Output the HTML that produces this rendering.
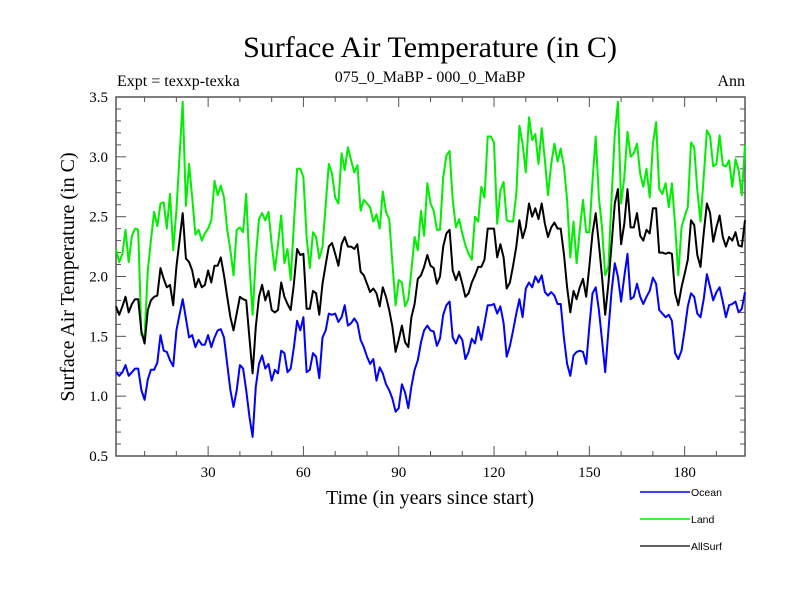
<!DOCTYPE html>
<html><head><meta charset="utf-8"><style>
body{margin:0;background:#fff;}
svg text{font-family:"Liberation Serif",serif;}
</style></head><body>
<svg id="chart" width="800" height="600" xmlns="http://www.w3.org/2000/svg">
<rect width="800" height="600" fill="#fff"/>
<text x="430" y="57" font-size="30" text-anchor="middle">Surface Air Temperature (in C)</text>
<text x="117" y="86" font-size="16">Expt = texxp-texka</text>
<text x="430" y="82" font-size="16" text-anchor="middle">075_0_MaBP - 000_0_MaBP</text>
<text x="745" y="86" font-size="16" text-anchor="end">Ann</text>
<text transform="translate(74,277) rotate(-90)" font-size="20" text-anchor="middle">Surface Air Temperature (in C)</text>
<text x="430" y="504" font-size="20" text-anchor="middle">Time (in years since start)</text>
<g id="axes"></g>
<g id="series"></g>
<g id="legend"></g>
</svg>
<script>
const years=[];for(let i=1;i<=199;i++)years.push(i);
const land=[2.23,2.12,2.19,2.39,2.12,2.34,2.40,2.39,1.51,1.50,2.05,2.30,2.54,2.42,2.61,2.62,2.40,2.69,2.22,2.55,3.00,3.46,2.59,2.94,2.66,2.35,2.39,2.30,2.36,2.40,2.47,2.80,2.68,2.76,
2.66,2.39,2.22,2.01,2.39,2.41,2.37,2.69,2.11,1.68,2.16,2.48,2.53,2.47,2.54,2.27,2.05,2.27,2.51,2.11,2.23,1.97,2.44,2.90,2.90,2.83,2.33,2.07,2.37,2.33,2.15,2.25,
2.60,2.94,2.86,2.66,2.61,3.03,2.89,3.08,2.97,2.87,2.93,2.55,2.64,2.61,2.58,2.46,2.52,2.40,2.71,2.54,2.48,2.11,1.76,1.97,1.95,1.75,1.81,2.05,2.33,2.22,2.55,2.34,2.78,2.61,
2.55,2.39,2.39,2.83,3.01,3.05,2.64,2.41,2.48,2.36,2.26,2.19,2.14,2.50,2.46,2.75,2.66,3.17,3.17,3.12,2.44,2.72,2.79,2.47,2.46,2.46,2.69,3.26,3.11,2.87,3.33,3.14,3.19,
2.94,3.24,2.97,2.68,2.94,3.11,2.96,3.07,2.92,2.64,2.16,2.46,2.11,2.39,2.64,2.37,2.37,2.80,3.17,2.66,2.41,2.01,2.08,2.66,3.19,3.46,2.61,2.83,3.21,3.00,3.03,3.11,2.86,
2.75,2.90,2.66,3.11,3.29,2.73,2.69,2.78,2.58,2.78,2.43,2.01,2.41,2.50,2.58,3.12,3.08,2.72,2.46,2.83,3.22,3.17,2.92,2.94,3.18,2.93,2.92,2.97,2.75,2.98,2.89,2.68,3.10];
const allsurf=[1.75,1.68,1.75,1.83,1.70,1.77,1.81,1.81,1.54,1.44,1.72,1.80,1.83,1.84,2.07,1.98,1.91,1.93,1.76,2.08,2.30,2.53,2.15,2.12,2.05,1.91,1.98,1.91,1.93,2.05,1.95,2.09,2.09,2.16,
2.01,1.83,1.66,1.55,1.69,1.83,1.81,1.80,1.49,1.19,1.58,1.83,1.93,1.80,1.88,1.72,1.70,1.72,1.95,1.83,1.77,1.72,1.94,2.23,2.18,2.19,1.73,1.73,1.88,1.86,1.68,1.94,
2.10,2.25,2.28,2.19,2.09,2.27,2.33,2.25,2.25,2.23,2.27,2.04,2.01,1.94,1.87,1.90,1.86,1.75,1.91,1.83,1.72,1.58,1.37,1.47,1.59,1.45,1.41,1.66,1.77,1.98,2.01,2.08,2.18,2.09,
2.07,1.94,2.00,2.25,2.36,2.39,2.05,1.97,2.04,1.94,1.83,1.86,1.95,2.01,2.08,2.08,2.14,2.40,2.40,2.40,2.16,2.27,2.16,1.90,1.95,2.09,2.25,2.47,2.32,2.41,2.61,2.50,2.57,
2.48,2.61,2.44,2.33,2.41,2.45,2.40,2.40,2.19,1.91,1.70,1.88,1.81,1.91,1.98,1.83,2.08,2.36,2.53,2.27,2.00,1.68,1.94,2.27,2.61,2.73,2.27,2.44,2.73,2.41,2.41,2.53,2.34,
2.30,2.39,2.36,2.57,2.57,2.20,2.20,2.19,2.20,2.19,1.86,1.76,1.91,2.02,2.14,2.47,2.43,2.18,2.08,2.36,2.61,2.53,2.29,2.41,2.51,2.33,2.25,2.33,2.30,2.37,2.26,2.25,2.47];
const ocean=[1.20,1.17,1.20,1.26,1.17,1.20,1.23,1.23,1.05,0.97,1.14,1.22,1.22,1.28,1.51,1.38,1.37,1.30,1.25,1.55,1.68,1.81,1.65,1.49,1.51,1.41,1.47,1.43,1.43,1.51,1.41,1.49,1.55,1.56,
1.49,1.27,1.05,0.91,1.05,1.26,1.23,1.05,0.83,0.66,1.08,1.27,1.34,1.23,1.27,1.13,1.22,1.19,1.38,1.36,1.20,1.23,1.41,1.63,1.55,1.66,1.20,1.22,1.36,1.33,1.15,1.49,
1.55,1.69,1.68,1.69,1.62,1.66,1.76,1.59,1.61,1.65,1.61,1.47,1.41,1.33,1.27,1.31,1.13,1.24,1.19,1.10,1.05,0.98,0.87,0.90,1.10,1.03,0.90,1.08,1.22,1.30,1.45,1.55,1.59,1.55,
1.54,1.42,1.48,1.68,1.76,1.79,1.49,1.44,1.51,1.47,1.31,1.37,1.48,1.44,1.58,1.47,1.61,1.76,1.76,1.77,1.69,1.75,1.61,1.33,1.42,1.55,1.69,1.81,1.66,1.90,1.95,1.91,2.00,
1.95,2.01,1.87,1.84,1.87,1.84,1.77,1.77,1.49,1.27,1.17,1.34,1.37,1.38,1.37,1.27,1.58,1.86,1.91,1.72,1.47,1.20,1.55,1.88,2.11,2.00,1.79,2.00,2.19,1.81,1.83,1.94,1.83,
1.77,1.83,1.88,1.99,1.94,1.72,1.69,1.66,1.68,1.63,1.36,1.31,1.38,1.55,1.75,1.86,1.83,1.69,1.66,1.81,2.02,1.91,1.80,1.87,1.91,1.79,1.66,1.76,1.77,1.79,1.70,1.73,1.87];
const xTicks=[30,60,90,120,150,180];
const yTicks=[0.5,1.0,1.5,2.0,2.5,3.0,3.5];
const yTickLabels=["0.5","1.0","1.5","2.0","2.5","3.0","3.5"];
const seriesNames=["Ocean","Land","AllSurf"];

const L=116,R=745,T=97,B=456,X0=1,X1=199,Y0=0.5,Y1=3.5;
const sx=v=>L+(v-X0)*(R-L)/(X1-X0);
const sy=v=>B-(v-Y0)*(B-T)/(Y1-Y0);
const NS="http://www.w3.org/2000/svg";
function mk(tag,attrs,parent){const e=document.createElementNS(NS,tag);for(const k in attrs)e.setAttribute(k,attrs[k]);parent.appendChild(e);return e;}
const axes=document.getElementById('axes');
const frame=mk('rect',{x:L,y:T,width:R-L,height:B-T,fill:'none',stroke:'#555','stroke-width':1.5},axes);


// minor y ticks
for(let v=Y0;v<=Y1+1e-9;v+=0.1){
  const major=Math.abs(v*2-Math.round(v*2))<1e-6;
  const len=major?10:5;
  const t1=mk('line',{x1:L,x2:L+len,y1:sy(v),y2:sy(v),stroke:'#555','stroke-width':1},axes);
  
  
  const t2=mk('line',{x1:R,x2:R-len,y1:sy(v),y2:sy(v),stroke:'#555','stroke-width':1},axes);
  
  
}
yTicks.forEach((v,i)=>{
  const t=mk('text',{x:L-8,y:sy(v)+5,'font-size':15,'text-anchor':'end'},axes);
  t.textContent=yTickLabels[i];
  
  
});
for(let v=10;v<X1;v+=10){
  const major=v%30===0;const len=major?10:5;
  const a=mk('line',{x1:sx(v),x2:sx(v),y1:B,y2:B-len,stroke:'#555','stroke-width':1},axes);
  
  
  const b=mk('line',{x1:sx(v),x2:sx(v),y1:T,y2:T+len,stroke:'#555','stroke-width':1},axes);
  
  
}
xTicks.forEach(v=>{
  const t=mk('text',{x:sx(v),y:B+21,'font-size':15,'text-anchor':'middle'},axes);
  t.textContent=String(v);
  
  
});
const sg=document.getElementById('series');
const colors=['#0000ff','#00ee00','#000000'];
const data=[ocean,land,allsurf];
[1,2,0].forEach(i=>{
  const arr=data[i];
  const pts=arr.map((v,k)=>sx(years[k]).toFixed(1)+','+sy(v).toFixed(1)).join(' ');
  const p=mk('polyline',{points:pts,fill:'none',stroke:colors[i],'stroke-width':2,'stroke-linejoin':'round'},sg);
  
  
});
const lg=document.getElementById('legend');
const legY=[492,519,546];
seriesNames.forEach((n,i)=>{
  const g=mk('g',{},lg);
  
  
  mk('line',{x1:640,x2:690,y1:legY[i],y2:legY[i],stroke:colors[i],'stroke-width':i==2?1.2:1.5},g);
  const t=mk('text',{x:691,y:legY[i]+4,'font-size':10.5,'font-family':'Liberation Sans, sans-serif'},g);
  t.setAttribute('style','font-family:"Liberation Sans",sans-serif');
  t.textContent=n;
});
</script>
</body></html>
